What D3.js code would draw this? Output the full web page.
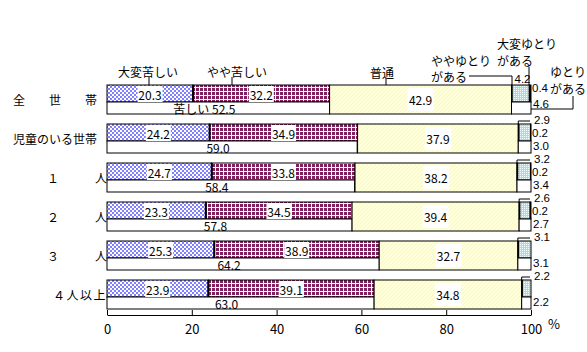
<!DOCTYPE html>
<html>
<head>
<meta charset="utf-8">
<script src="https://cdn.jsdelivr.net/npm/d3@7"></script>
<style>
  body { margin: 0; background: #fff; }
  text { font-family: "Noto Sans CJK JP", "Noto Sans", sans-serif; font-size: 12px; fill: #000; }
  .side { font-family: "Liberation Sans", Arial, sans-serif; font-size: 11.5px; }
</style>
</head>
<body>
<svg width="587" height="352"></svg>
<script>
// 生活意識別の世帯数の構成割合（%）
const categories = ['全　　世　　帯', '児童のいる世帯', '１　　　人', '２　　　人', '３　　　人', '４人以上'];
const veryHard = [20.3, 24.2, 24.7, 23.3, 25.3, 23.9];   // 大変苦しい
const someHard = [32.2, 34.9, 33.8, 34.5, 38.9, 39.1];   // やや苦しい
const normal   = [42.9, 37.9, 38.2, 39.4, 32.7, 34.8];   // 普通
const someRoom = [4.2, 2.9, 3.2, 2.6, 3.1, 2.2];         // ややゆとりがある
const muchRoom = [0.4, 0.2, 0.2, 0.2, 0, 0];             // 大変ゆとりがある
const hardTotal = [52.5, 59.0, 58.4, 57.8, 64.2, 63.0];  // 苦しい
const roomTotal = [4.6, 3.0, 3.4, 2.7, 3.1, 2.2];        // ゆとりがある
const TICKS = [0, 20, 40, 60, 80, 100];

const rows = categories.map((c, i) => ({
  name: c, i,
  a: veryHard[i], b: someHard[i], n: normal[i], r1: someRoom[i], r2: muchRoom[i],
  hard: hardTotal[i], room: roomTotal[i]
}));

const svg = d3.select('svg');
svg.append('rect').attr('width', 587).attr('height', 352).attr('fill', '#fff');

const x = d3.scaleLinear().domain([0, 100]).range([107, 531]);
const y = d3.scaleBand().domain(categories).range([85, 309]).paddingInner(10 / 39).paddingOuter(0);
const H = y.bandwidth();   // 29
const TOP = 17;            // upper half height

// PATTERNS
const defs = svg.append('defs');
const chk = defs.append('pattern').attr('id', 'chk').attr('width', 4).attr('height', 4).attr('patternUnits', 'userSpaceOnUse');
chk.append('rect').attr('width', 4).attr('height', 4).attr('fill', '#fff');
chk.append('rect').attr('width', 2).attr('height', 2).attr('fill', '#7f7fff');
chk.append('rect').attr('x', 2).attr('y', 2).attr('width', 2).attr('height', 2).attr('fill', '#7f7fff');

const grid = defs.append('pattern').attr('id', 'grid').attr('width', 4).attr('height', 4).attr('patternUnits', 'userSpaceOnUse');
grid.append('rect').attr('width', 4).attr('height', 4).attr('fill', '#80205f');
grid.append('rect').attr('x', 3).attr('width', 1).attr('height', 4).attr('fill', '#fff');
grid.append('rect').attr('y', 3).attr('width', 4).attr('height', 1).attr('fill', '#fff');

const hatch = defs.append('pattern').attr('id', 'hatch').attr('width', 4).attr('height', 4).attr('patternUnits', 'userSpaceOnUse');
hatch.append('rect').attr('width', 4).attr('height', 4).attr('fill', '#ffffd8');
hatch.append('path').attr('d', 'M0,4 L4,0 M-1,1 L1,-1 M3,5 L5,3').attr('stroke', '#ffff90').attr('stroke-width', 1);

const dots = defs.append('pattern').attr('id', 'dots').attr('width', 2).attr('height', 2).attr('patternUnits', 'userSpaceOnUse');
dots.append('rect').attr('width', 2).attr('height', 2).attr('fill', '#9fe0e0');
dots.append('rect').attr('width', 1).attr('height', 1).attr('fill', '#f0ffff');

// BARS
const g = svg.append('g');
const row = g.selectAll('.row').data(rows).enter().append('g').attr('class', 'row');

function box(sel, x0, x1, y0, h, fill) {
  sel.append('rect')
    .attr('x', d => x(x0(d))).attr('y', d => y(d.name) + y0)
    .attr('width', d => Math.max(0, x(x1(d)) - x(x0(d)))).attr('height', h)
    .attr('fill', fill).attr('stroke', '#000').attr('stroke-width', 1);
}

box(row, d => 0, d => d.a, 0, TOP, 'url(#chk)');
box(row, d => d.a, d => d.a + d.b, 0, TOP, 'url(#grid)');
box(row, d => 0, d => d.hard, TOP, H - TOP, '#fff');
box(row, d => d.a + d.b, d => d.a + d.b + d.n, 0, H, 'url(#hatch)');
box(row, d => d.a + d.b + d.n, d => d.a + d.b + d.n + d.r1, 0, TOP, 'url(#dots)');
box(row.filter(d => d.r2 > 0), d => d.a + d.b + d.n + d.r1, d => 100, 0, TOP, '#000');
box(row, d => d.a + d.b + d.n, d => 100, TOP, H - TOP, '#fff');

// thick separators
row.append('line')
  .attr('x1', d => x(d.a)).attr('x2', d => x(d.a))
  .attr('y1', d => y(d.name)).attr('y2', d => y(d.name) + TOP)
  .attr('stroke', '#000').attr('stroke-width', 2);
row.append('line')
  .attr('x1', d => x(d.a + d.b + d.n) + 0.5).attr('x2', d => x(d.a + d.b + d.n) + 0.5)
  .attr('y1', d => y(d.name)).attr('y2', d => y(d.name) + TOP)
  .attr('stroke', '#000').attr('stroke-width', 1.5);

// VALUE LABELS
function valueLabel(sel, cx, cy, bw, bh, txt) {
  sel.append('rect')
    .attr('x', d => cx(d) - bw / 2).attr('y', d => cy(d) - bh / 2)
    .attr('width', bw).attr('height', bh).attr('fill', '#fff');
  sel.append('text')
    .attr('x', cx).attr('y', cy)
    .attr('text-anchor', 'middle').attr('dominant-baseline', 'central')
    .text(txt);
}
valueLabel(row, d => x(d.a / 2), d => y(d.name) + TOP / 2 + 0.5, 25, TOP - 1, d => d.a.toFixed(1));
valueLabel(row, d => x(d.a + d.b / 2), d => y(d.name) + TOP / 2 + 0.5, 25, TOP - 1, d => d.b.toFixed(1));
valueLabel(row, d => x(d.a + d.b + d.n / 2), d => y(d.name) + H / 2, 26, 23, d => d.n.toFixed(1));

row.append('text')
  .attr('x', d => x(d.hard / 2) - 14)
  .attr('y', d => y(d.name) + TOP + (H - TOP) / 2 + 0.5)
  .attr('text-anchor', 'middle').attr('dominant-baseline', 'central')
  .text(d => (d.i === 0 ? '苦しい ' : '') + d.hard.toFixed(1));

// right side labels
row.filter(d => d.i > 0).append('path')
  .attr('d', d => `M${x(d.a + d.b + d.n)},${y(d.name)} V${y(d.name) - 3} H530`)
  .attr('fill', 'none').attr('stroke', '#000');
row.filter(d => d.i > 0).append('text')
  .attr('class', 'side')
  .attr('x', 534).attr('y', d => y(d.name) - 4)
  .attr('dominant-baseline', 'central')
  .text(d => d.r1.toFixed(1));
row.filter(d => d.i === 0).append('text')
  .attr('class', 'side')
  .attr('x', d => x(d.a + d.b + d.n) + 3).attr('y', d => y(d.name) - 6)
  .attr('dominant-baseline', 'central')
  .text(d => d.r1.toFixed(1));
row.filter(d => d.r2 > 0).append('text')
  .attr('class', 'side')
  .attr('x', 532).attr('y', d => y(d.name) + (d.i === 0 ? 3 : 9))
  .attr('dominant-baseline', 'central')
  .text(d => d.r2.toFixed(1));
row.append('text')
  .attr('class', 'side')
  .attr('x', 533).attr('y', d => y(d.name) + (d.i === 0 ? 19 : 22))
  .attr('dominant-baseline', 'central')
  .text(d => d.room.toFixed(1));

// ROW NAMES
g.selectAll('.cat').data(rows).enter().append('text')
  .attr('x', d => d.i < 2 ? 97 : 107)
  .attr('y', d => y(d.name) + H / 2)
  .attr('text-anchor', 'end').attr('dominant-baseline', 'central')
  .attr('letter-spacing', d => d.i === 5 ? 1.5 : 0)
  .text(d => d.name);

// AXIS
const axis = svg.append('g')
  .attr('transform', 'translate(0,315)')
  .call(d3.axisBottom(x).tickValues(TICKS).tickSize(-5).tickSizeOuter(0).tickPadding(10));
axis.select('.domain').attr('stroke', '#000');
axis.selectAll('.tick line').attr('stroke', '#000');
axis.selectAll('.tick text')
  .attr('fill', '#000').style('font-size', '13px')
  .style('font-family', '"Noto Sans CJK JP", sans-serif');
svg.append('text').attr('x', 548).attr('y', 323).attr('dominant-baseline', 'central')
  .style('font-size', '13px').text('%');

// LEGEND CALLOUTS
const ann = svg.append('g');
const notes = [
  { t: '大変苦しい', x: 148, y: 71, a: 'middle' },
  { t: 'やや苦しい', x: 237, y: 71, a: 'middle' },
  { t: '普通', x: 382, y: 72, a: 'middle' },
  { t: 'ややゆとり', x: 431, y: 60, a: 'start' },
  { t: 'がある', x: 431, y: 76, a: 'start' },
  { t: '大変ゆとり', x: 497, y: 43, a: 'start' },
  { t: 'がある', x: 497, y: 60, a: 'start' },
  { t: 'ゆとり', x: 550, y: 71, a: 'start' },
  { t: 'がある', x: 550, y: 88, a: 'start' }
];
ann.selectAll('text').data(notes).enter().append('text')
  .attr('x', d => d.x).attr('y', d => d.y)
  .attr('text-anchor', d => d.a).attr('dominant-baseline', 'central')
  .text(d => d.t);
const leaders = ['M149,77 V85', 'M232,77 V85', 'M386,78 V85', 'M469,76 H512 V85', 'M529,67 V85', 'M573,96 V109 H531'];
ann.selectAll('path').data(leaders).enter().append('path')
  .attr('d', d => d).attr('fill', 'none').attr('stroke', '#000');
</script>
</body>
</html>
